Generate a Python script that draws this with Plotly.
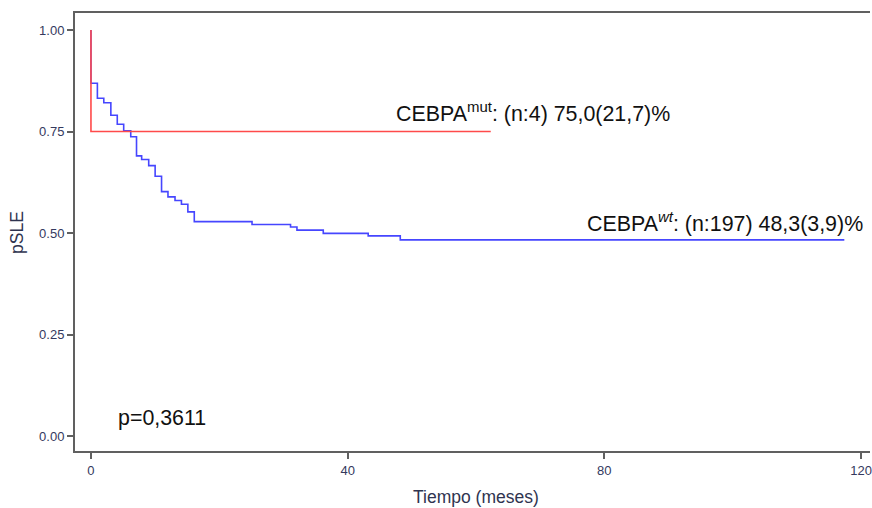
import plotly.graph_objects as go

# Kaplan-Meier estimates of leukemia-free survival (pSLE) by CEBPA status
wt_months = [0, 0, 1.0, 2.0, 3.1, 4.1, 5.1, 6.2, 7.1, 7.9, 9.0, 10.0, 11.0, 12.0,
             13.1, 14.1, 15.1, 16.1, 25.1, 31.1, 32.1, 36.2, 43.2, 48.2, 117.4]
wt_surv = [1.0, 0.869, 0.832, 0.821, 0.790, 0.768, 0.752, 0.737, 0.690, 0.681, 0.666,
           0.640, 0.602, 0.589, 0.580, 0.571, 0.552, 0.528, 0.521, 0.515, 0.507,
           0.499, 0.493, 0.483, 0.483]

mut_months = [0, 0, 62.3]
mut_surv = [1.0, 0.75, 0.75]

x_ticks = [0, 40, 80, 120]
y_ticks = [0.0, 0.25, 0.50, 0.75, 1.0]

label_mut = "CEBPA<sup>mut</sup>: (n:4) 75,0(21,7)%"
label_wt = "CEBPA<sup><i>wt</i></sup>: (n:197) 48,3(3,9)%"
label_p = "p=0,3611"

axis_color = "#606060"
tick_color = "#34395e"
font_family = "Liberation Sans, Arial, sans-serif"

fig = go.Figure()
fig.add_trace(go.Scatter(x=wt_months, y=wt_surv, mode="lines", line_shape="hv",
                         line=dict(color="#4646ff", width=1.6), showlegend=False))
fig.add_trace(go.Scatter(x=mut_months, y=mut_surv, mode="lines", line_shape="hv",
                         line=dict(color="#ff4a4a", width=1.6), showlegend=False))

text_font = dict(family=font_family, size=21.4, color="#111111")
fig.add_annotation(x=47.3, y=0.797, xref="x", yref="y", text=label_mut,
                   showarrow=False, xanchor="left", yanchor="middle", font=text_font)
fig.add_annotation(x=77.0, y=0.527, xref="x", yref="y", text=label_wt,
                   showarrow=False, xanchor="left", yanchor="middle", font=text_font)
fig.add_annotation(x=3.9, y=0.045, xref="x", yref="y", text=label_p,
                   showarrow=False, xanchor="left", yanchor="middle", font=text_font)

title_font = dict(family=font_family, size=17.5, color="#2f3450")
fig.add_annotation(x=0.504, y=-0.105, xref="paper", yref="paper", text="Tiempo (meses)",
                   showarrow=False, xanchor="center", yanchor="middle", font=title_font)
fig.add_annotation(x=-0.073, y=0.5, xref="paper", yref="paper", text="pSLE",
                   textangle=-90, showarrow=False, xanchor="center", yanchor="middle",
                   font=title_font)

fig.update_xaxes(range=[-2.487, 121.4], tickvals=x_ticks, ticks="outside", ticklen=6,
                 tickwidth=1.5, tickcolor=axis_color, showline=True, linecolor=axis_color,
                 linewidth=2, mirror=True, showgrid=False, zeroline=False,
                 ticklabeloverflow="allow",
                 tickfont=dict(family=font_family, size=13, color=tick_color))
fig.update_yaxes(range=[-0.037, 1.042], tickvals=y_ticks, tickformat=".2f",
                 ticks="outside", ticklen=6, tickwidth=1.5, tickcolor=axis_color,
                 showline=True, linecolor=axis_color, linewidth=2, showgrid=False,
                 zeroline=False,
                 tickfont=dict(family=font_family, size=13, color=tick_color))

fig.update_layout(width=872, height=508, margin=dict(l=75, r=0, t=13, b=57),
                  plot_bgcolor="white", paper_bgcolor="white")

fig.write_html("out.html")
